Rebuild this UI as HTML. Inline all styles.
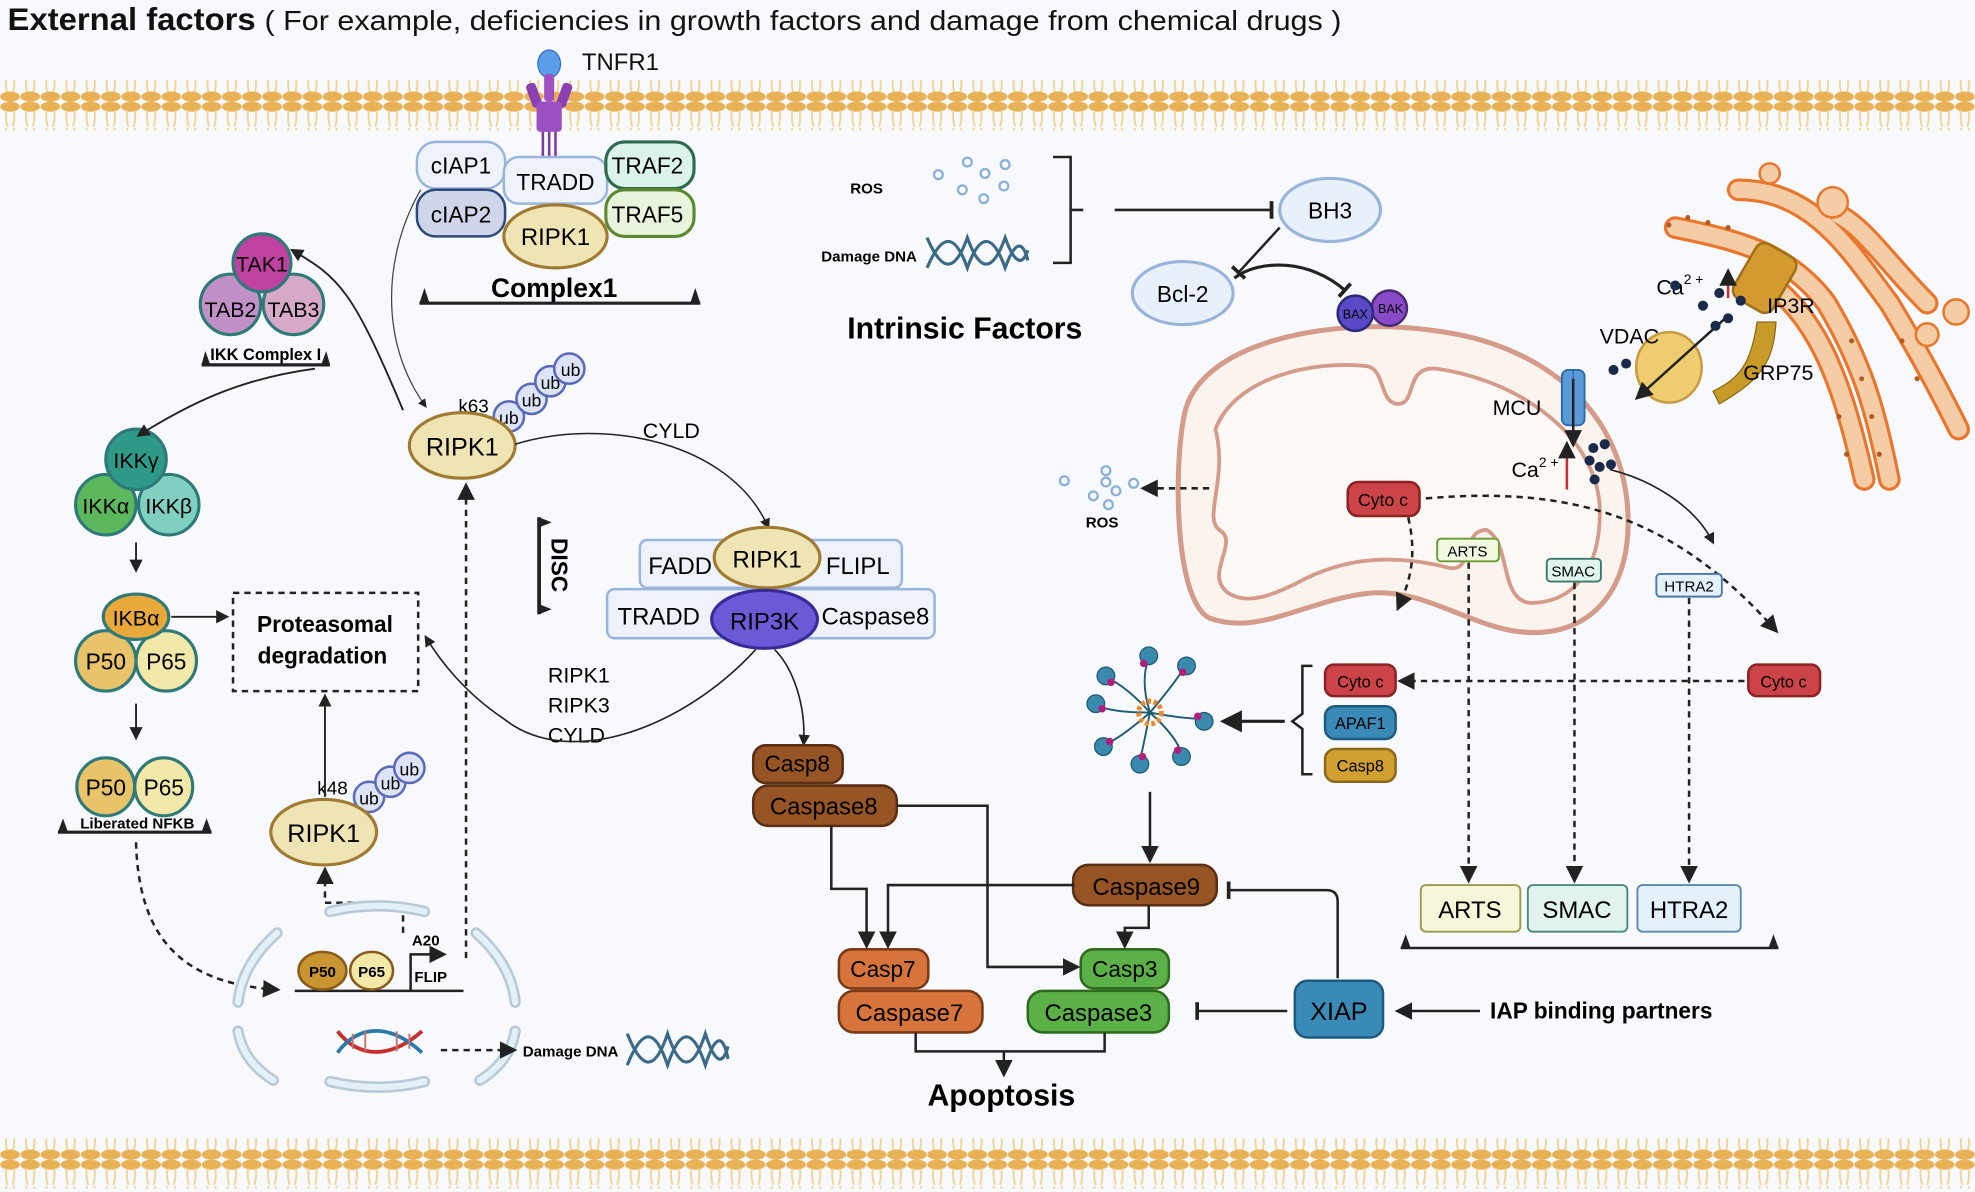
<!DOCTYPE html>
<html><head><meta charset="utf-8">
<style>
html,body{margin:0;padding:0;background:#f7f9fd;}
svg{display:block;}
text{font-family:"Liberation Sans",sans-serif;}
.b{font-weight:bold;}
</style></head>
<body>
<svg width="1975" height="1192" viewBox="0 0 1568 945" xmlns="http://www.w3.org/2000/svg">
<defs>
<marker id="ar" viewBox="0 0 10 10" refX="8" refY="5" markerWidth="7" markerHeight="7" orient="auto-start-reverse"><path d="M0,0L10,5L0,10z" fill="#222"/></marker>
<marker id="tb" viewBox="0 0 4 14" refX="2" refY="7" markerWidth="4" markerHeight="14" orient="auto" markerUnits="userSpaceOnUse"><rect x="0" y="0" width="3" height="14" fill="#222"/></marker>
<pattern id="mem" x="0" y="0" width="16" height="40" patternUnits="userSpaceOnUse">
<ellipse cx="8" cy="4" rx="7.8" ry="4" fill="#e8b155"/>
<path d="M5,7 Q4,14 6,20 M11,7 Q12,14 10,20" stroke="#f0d490" stroke-width="1.5" fill="none"/>
<path d="M5,21 Q4,28 6,34 M11,21 Q12,28 10,34" stroke="#f0d490" stroke-width="1.5" fill="none"/>
<ellipse cx="8" cy="36" rx="7.8" ry="4" fill="#e8b155"/>
</pattern>
</defs>
<rect width="1568" height="945" fill="#f7f9fd"/>
<!-- membranes -->
<rect x="0" y="63" width="1568" height="40" fill="url(#mem)"/>
<rect x="0" y="903" width="1568" height="40" fill="url(#mem)"/>
<!-- title -->
<text x="6" y="23" font-size="25" class="b" fill="#111" textLength="197" lengthAdjust="spacingAndGlyphs">External factors</text>
<text x="210" y="23" font-size="22" fill="#111" textLength="855" lengthAdjust="spacingAndGlyphs">( For example, deficiencies in growth factors and damage from chemical drugs )</text>
<!-- TNFR1 -->
<g>
<ellipse cx="436" cy="50" rx="9" ry="11" fill="#5b9ee8" stroke="#3a6fc0"/>
<rect x="432" y="58" width="8" height="22" rx="3" fill="#a050c0"/>
<rect x="420" y="65" width="8" height="20" rx="3" fill="#8a40b0" transform="rotate(-20 424 75)"/>
<rect x="444" y="65" width="8" height="20" rx="3" fill="#8a40b0" transform="rotate(20 448 75)"/>
<rect x="426" y="80" width="20" height="24" rx="3" fill="#9a50c0"/>
<line x1="431" y1="104" x2="431" y2="124" stroke="#7a3aa0" stroke-width="2"/>
<line x1="436" y1="104" x2="436" y2="124" stroke="#7a3aa0" stroke-width="2"/>
<line x1="441" y1="104" x2="441" y2="124" stroke="#7a3aa0" stroke-width="2"/>
<text x="462" y="55" font-size="19" fill="#111">TNFR1</text>
</g>
<!-- Complex 1 -->
<rect x="331" y="112" width="70" height="37" rx="15" fill="#eef3fb" stroke="#9ab4dc" stroke-width="2"/>
<text x="366" y="137" font-size="18" text-anchor="middle">cIAP1</text>
<rect x="331" y="150" width="70" height="37" rx="15" fill="#cfd6ea" stroke="#2d4a7a" stroke-width="2"/>
<text x="366" y="176" font-size="18" text-anchor="middle">cIAP2</text>
<rect x="400" y="124" width="82" height="37" rx="12" fill="#eef3fb" stroke="#9ab4dc" stroke-width="2"/>
<text x="441" y="150" font-size="18" text-anchor="middle">TRADD</text>
<rect x="481" y="112" width="70" height="37" rx="15" fill="#dcf3ec" stroke="#2f6a50" stroke-width="2.5"/>
<text x="514" y="137" font-size="18" text-anchor="middle">TRAF2</text>
<rect x="481" y="150" width="70" height="37" rx="15" fill="#e8f5dc" stroke="#5a8a30" stroke-width="2.5"/>
<text x="514" y="176" font-size="18" text-anchor="middle">TRAF5</text>
<ellipse cx="441" cy="187" rx="41" ry="25" fill="#efe5b4" stroke="#a07a30" stroke-width="2.5"/>
<text x="441" y="194" font-size="19" text-anchor="middle">RIPK1</text>
<text x="440" y="235" font-size="21" class="b" text-anchor="middle">Complex1</text>
<line x1="333" y1="240" x2="556" y2="240" stroke="#222" stroke-width="2.5"/>
<path d="M333,240 l4,-12 l4,12z M556,240 l-4,-12 l-4,12z" fill="#222"/>
<!-- TAK complex -->
<circle cx="183" cy="241" r="24" fill="#c090c6" stroke="#2f7a78" stroke-width="2.5"/>
<circle cx="233" cy="241" r="24" fill="#d8a8c8" stroke="#2f7a78" stroke-width="2.5"/>
<circle cx="208" cy="208" r="23" fill="#c042a0" stroke="#2f7a78" stroke-width="2.5"/>
<text x="208" y="215" font-size="17" text-anchor="middle">TAK1</text>
<text x="183" y="251" font-size="17" text-anchor="middle">TAB2</text>
<text x="233" y="251" font-size="17" text-anchor="middle">TAB3</text>
<text x="211" y="285" font-size="13" class="b" text-anchor="middle">IKK Complex I</text>
<line x1="160" y1="289" x2="262" y2="289" stroke="#222" stroke-width="2.5"/>
<path d="M160,289 l3,-11 l4,11z M262,289 l-3,-11 l-4,11z" fill="#222"/>
<!-- IKK -->
<circle cx="84" cy="400" r="24" fill="#5cb85c" stroke="#2f7a78" stroke-width="2.5"/>
<circle cx="134" cy="400" r="24" fill="#7fd0c0" stroke="#2f7a78" stroke-width="2.5"/>
<circle cx="108" cy="364" r="24" fill="#2f9a88" stroke="#2f7a78" stroke-width="2.5"/>
<text x="108" y="371" font-size="17" text-anchor="middle">IKKγ</text>
<text x="84" y="407" font-size="17" text-anchor="middle">IKKα</text>
<text x="134" y="407" font-size="17" text-anchor="middle">IKKβ</text>
<line x1="108" y1="430" x2="108" y2="452" stroke="#222" stroke-width="1.5" marker-end="url(#ar)"/>
<!-- IKBa -->
<circle cx="84" cy="524" r="24" fill="#e8c36a" stroke="#2f7a78" stroke-width="2.5"/>
<circle cx="132" cy="524" r="24" fill="#f2e8a8" stroke="#2f7a78" stroke-width="2.5"/>
<ellipse cx="108" cy="489" rx="26" ry="18" fill="#e8a93a" stroke="#2f7a78" stroke-width="2.5"/>
<text x="108" y="496" font-size="17" text-anchor="middle">IKBα</text>
<text x="84" y="531" font-size="18" text-anchor="middle">P50</text>
<text x="132" y="531" font-size="18" text-anchor="middle">P65</text>
<line x1="136" y1="489" x2="180" y2="489" stroke="#222" stroke-width="1.5" marker-end="url(#ar)"/>
<line x1="108" y1="558" x2="108" y2="585" stroke="#222" stroke-width="1.5" marker-end="url(#ar)"/>
<circle cx="84" cy="624" r="23" fill="#e8c36a" stroke="#2f7a78" stroke-width="2.5"/>
<circle cx="130" cy="624" r="23" fill="#f2e8a8" stroke="#2f7a78" stroke-width="2.5"/>
<text x="84" y="631" font-size="18" text-anchor="middle">P50</text>
<text x="130" y="631" font-size="18" text-anchor="middle">P65</text>
<text x="109" y="657" font-size="12" class="b" text-anchor="middle">Liberated NFKB</text>
<line x1="46" y1="660" x2="168" y2="660" stroke="#222" stroke-width="2.5"/>
<path d="M46,660 l4,-11 l4,11z M168,660 l-4,-11 l-4,11z" fill="#222"/>
<!-- Proteasomal -->
<rect x="185" y="470" width="147" height="78" fill="none" stroke="#222" stroke-width="2" stroke-dasharray="5,4"/>
<text x="258" y="501" font-size="18" class="b" text-anchor="middle">Proteasomal</text>
<text x="256" y="526" font-size="18" class="b" text-anchor="middle">degradation</text>
<!-- RIPK1 lower -->
<circle cx="293" cy="632" r="12" fill="#dde4f8" stroke="#5a6ab8" stroke-width="2"/>
<circle cx="310" cy="620" r="12" fill="#dde4f8" stroke="#5a6ab8" stroke-width="2"/>
<circle cx="325" cy="609" r="12" fill="#dde4f8" stroke="#5a6ab8" stroke-width="2"/>
<text x="293" y="638" font-size="14" text-anchor="middle">ub</text>
<text x="310" y="626" font-size="14" text-anchor="middle">ub</text>
<text x="325" y="615" font-size="14" text-anchor="middle">ub</text>
<text x="264" y="630" font-size="15" text-anchor="middle">k48</text>
<ellipse cx="257" cy="660" rx="42" ry="26" fill="#efe5b4" stroke="#a07a30" stroke-width="2.5"/>
<text x="257" y="668" font-size="20" text-anchor="middle">RIPK1</text>
<line x1="258" y1="632" x2="258" y2="552" stroke="#222" stroke-width="1.5" marker-end="url(#ar)"/>
<!-- RIPK1 upper -->
<circle cx="404" cy="330" r="12" fill="#dde4f8" stroke="#5a6ab8" stroke-width="2"/>
<circle cx="422" cy="316" r="12" fill="#dde4f8" stroke="#5a6ab8" stroke-width="2"/>
<circle cx="437" cy="302" r="12" fill="#dde4f8" stroke="#5a6ab8" stroke-width="2"/>
<circle cx="452" cy="292" r="12" fill="#dde4f8" stroke="#5a6ab8" stroke-width="2"/>
<text x="404" y="336" font-size="14" text-anchor="middle">ub</text>
<text x="422" y="322" font-size="14" text-anchor="middle">ub</text>
<text x="437" y="308" font-size="14" text-anchor="middle">ub</text>
<text x="453" y="298" font-size="14" text-anchor="middle">ub</text>
<text x="376" y="327" font-size="15" text-anchor="middle">k63</text>
<ellipse cx="367" cy="353" rx="42" ry="26" fill="#efe5b4" stroke="#a07a30" stroke-width="2.5"/>
<text x="367" y="361" font-size="20" text-anchor="middle">RIPK1</text>
<!-- arrows around RIPK1 -->
<path d="M334,150 C305,200 300,270 338,322" fill="none" stroke="#444" stroke-width="1" marker-end="url(#ar)"/>
<path d="M320,325 C280,230 270,220 232,198" fill="none" stroke="#222" stroke-width="1.5" marker-end="url(#ar)"/>
<path d="M250,292 C190,300 150,320 110,345" fill="none" stroke="#222" stroke-width="1.5" marker-end="url(#ar)"/>
<path d="M409,352 C480,330 580,350 610,418" fill="none" stroke="#222" stroke-width="1.2" marker-end="url(#ar)"/>
<text x="533" y="347" font-size="17" text-anchor="middle">CYLD</text>
<!-- dashed from nucleus up to RIPK1 -->
<path d="M370,760 L370,385" fill="none" stroke="#222" stroke-width="2" stroke-dasharray="5,4" marker-end="url(#ar)"/>
<path d="M320,740 L320,716 L258,716 L258,690" fill="none" stroke="#222" stroke-width="2" stroke-dasharray="5,4" marker-end="url(#ar)"/>
<path d="M108,668 C110,740 140,780 220,785" fill="none" stroke="#222" stroke-width="2" stroke-dasharray="5,4" marker-end="url(#ar)"/>
<!-- nucleus -->
<g fill="none" stroke="#b7c9d6" stroke-width="9" stroke-linecap="round">
<path d="M262,723 Q300,714 337,723"/>
<path d="M262,858 Q300,867 337,858"/>
<path d="M220,740 Q192,765 189,795"/>
<path d="M378,740 Q406,765 409,795"/>
<path d="M189,818 Q193,842 217,857"/>
<path d="M409,818 Q405,842 381,857"/>
</g>
<g fill="none" stroke="#e4f0f8" stroke-width="5" stroke-linecap="round">
<path d="M262,723 Q300,714 337,723"/>
<path d="M262,858 Q300,867 337,858"/>
<path d="M220,740 Q192,765 189,795"/>
<path d="M378,740 Q406,765 409,795"/>
<path d="M189,818 Q193,842 217,857"/>
<path d="M409,818 Q405,842 381,857"/>
</g>
<line x1="234" y1="786" x2="368" y2="786" stroke="#222" stroke-width="2"/>
<path d="M326,786 L326,757 L352,757" fill="none" stroke="#222" stroke-width="2" marker-end="url(#ar)"/>
<ellipse cx="256" cy="770" rx="19" ry="15" fill="#c89530" stroke="#8a5a1a" stroke-width="2"/>
<ellipse cx="295" cy="770" rx="17" ry="15" fill="#f2e8a8" stroke="#8a5a1a" stroke-width="2"/>
<text x="256" y="775" font-size="12" class="b" text-anchor="middle">P50</text>
<text x="295" y="775" font-size="12" class="b" text-anchor="middle">P65</text>
<text x="327" y="750" font-size="12" class="b">A20</text>
<text x="329" y="779" font-size="12" class="b">FLIP</text>
<path d="M268,818 C285,840 310,840 335,818" stroke="#c83030" stroke-width="3" fill="none"/>
<path d="M268,835 C285,812 310,812 335,835" stroke="#2a7aa8" stroke-width="3" fill="none"/>
<g stroke="#c87070" stroke-width="1.5"><line x1="280" y1="820" x2="280" y2="832"/><line x1="290" y1="818" x2="290" y2="834"/><line x1="315" y1="818" x2="315" y2="834"/><line x1="325" y1="820" x2="325" y2="832"/></g>
<line x1="350" y1="833" x2="408" y2="833" stroke="#222" stroke-width="2" stroke-dasharray="5,4" marker-end="url(#ar)"/>
<text x="415" y="838" font-size="12" class="b">Damage DNA</text>
<g fill="none" stroke="#3a6a88" stroke-width="2.5">
<path d="M498,820 C510,850 520,850 530,820 C540,850 550,850 560,820 C568,845 574,845 578,830"/>
<path d="M498,845 C510,815 520,815 530,845 C540,815 550,815 560,845 C568,820 574,820 578,840"/>
</g>
<!-- DISC -->
<line x1="428" y1="410" x2="428" y2="487" stroke="#222" stroke-width="3"/>
<path d="M428,410 l10,4 l-10,4z M428,487 l10,-4 l-10,-4z" fill="#222"/>
<text x="438" y="448" font-size="18" class="b" transform="rotate(90 438 448)" text-anchor="middle">DISC</text>
<rect x="508" y="428" width="208" height="38" rx="6" fill="#eef3fb" stroke="#9ab4dc" stroke-width="2"/>
<rect x="482" y="467" width="260" height="39" rx="6" fill="#eef3fb" stroke="#9ab4dc" stroke-width="2"/>
<text x="540" y="455" font-size="19" text-anchor="middle">FADD</text>
<text x="681" y="455" font-size="19" text-anchor="middle">FLIPL</text>
<text x="523" y="495" font-size="19" text-anchor="middle">TRADD</text>
<text x="695" y="495" font-size="19" text-anchor="middle">Caspase8</text>
<ellipse cx="609" cy="442" rx="42" ry="24" fill="#efe5b4" stroke="#a07a30" stroke-width="2.5"/>
<text x="609" y="450" font-size="19" text-anchor="middle">RIPK1</text>
<ellipse cx="607" cy="491" rx="42" ry="23" fill="#6a5ad8" stroke="#3a2a98" stroke-width="2.5"/>
<text x="607" y="499" font-size="19" text-anchor="middle">RIP3K</text>
<text x="435" y="541" font-size="17">RIPK1</text>
<text x="435" y="565" font-size="17">RIPK3</text>
<text x="435" y="589" font-size="17">CYLD</text>
<path d="M600,515 C540,580 450,610 400,570 C370,550 350,525 338,505" fill="none" stroke="#222" stroke-width="1.3" marker-end="url(#ar)"/>
<path d="M615,515 C630,530 640,560 638,590" fill="none" stroke="#222" stroke-width="1.3" marker-end="url(#ar)"/>
<!-- Caspases -->
<rect x="598" y="591" width="71" height="30" rx="10" fill="#975425" stroke="#5a2e12" stroke-width="2"/>
<text x="633" y="612" font-size="18" text-anchor="middle">Casp8</text>
<rect x="598" y="623" width="114" height="32" rx="12" fill="#975425" stroke="#5a2e12" stroke-width="2"/>
<text x="654" y="646" font-size="19" text-anchor="middle">Caspase8</text>
<rect x="852" y="686" width="114" height="32" rx="12" fill="#975425" stroke="#5a2e12" stroke-width="2"/>
<text x="910" y="710" font-size="19" text-anchor="middle">Caspase9</text>
<rect x="666" y="753" width="71" height="31" rx="10" fill="#d6743c" stroke="#7a3a18" stroke-width="2"/>
<text x="701" y="775" font-size="18" text-anchor="middle">Casp7</text>
<rect x="666" y="786" width="114" height="33" rx="12" fill="#d6743c" stroke="#7a3a18" stroke-width="2"/>
<text x="722" y="810" font-size="19" text-anchor="middle">Caspase7</text>
<rect x="858" y="753" width="70" height="31" rx="10" fill="#5cb048" stroke="#2e6a1e" stroke-width="2"/>
<text x="893" y="775" font-size="18" text-anchor="middle">Casp3</text>
<rect x="816" y="786" width="112" height="33" rx="12" fill="#5cb048" stroke="#2e6a1e" stroke-width="2"/>
<text x="872" y="810" font-size="19" text-anchor="middle">Caspase3</text>
<rect x="1028" y="778" width="70" height="45" rx="10" fill="#3a8ab8" stroke="#1e5a80" stroke-width="2"/>
<text x="1063" y="809" font-size="20" text-anchor="middle">XIAP</text>
<g fill="none" stroke="#222" stroke-width="2">
<path d="M660,655 L660,705 L688,705 L688,750" marker-end="url(#ar)"/>
<path d="M853,702 L705,702 L705,750" marker-end="url(#ar)"/>
<path d="M712,639 L784,639 L784,767 L855,767" marker-end="url(#ar)"/>
<path d="M912,718 L912,736 L893,736 L893,750" marker-end="url(#ar)"/>
<path d="M913,628 L913,682" marker-end="url(#ar)"/>
<path d="M727,819 L727,834 L877,834 L877,819"/>
<path d="M797,834 L797,852" marker-end="url(#ar)"/>
<path d="M1062,776 L1062,715 Q1062,706 1053,706 L975,706" marker-end="url(#tb)"/>
<path d="M1022,802 L950,802" marker-end="url(#tb)"/>
<path d="M1175,802 L1110,802" marker-end="url(#ar)"/>
</g>
<text x="1183" y="808" font-size="18" class="b">IAP binding partners</text>
<text x="795" y="877" font-size="24" class="b" text-anchor="middle">Apoptosis</text>
<!-- apoptosome -->
<g>
<g stroke="#1e5a70" stroke-width="1.5" fill="none">
<path d="M913,565 Q905,540 912,522"/><path d="M913,565 Q930,545 940,530"/><path d="M913,565 Q940,570 955,570"/>
<path d="M913,565 Q935,585 938,598"/><path d="M913,565 Q908,590 905,604"/><path d="M913,565 Q890,585 878,590"/>
<path d="M913,565 Q885,565 872,560"/><path d="M913,565 Q895,545 880,538"/>
</g>
<g fill="#3a8ab0" stroke="#1e5a70">
<circle cx="912" cy="520" r="7"/><circle cx="942" cy="528" r="7"/><circle cx="956" cy="572" r="7"/><circle cx="938" cy="600" r="7"/>
<circle cx="905" cy="606" r="7"/><circle cx="876" cy="592" r="7"/><circle cx="870" cy="558" r="7"/><circle cx="878" cy="536" r="7"/>
</g>
<g fill="#b0207a"><circle cx="908" cy="526" r="3"/><circle cx="939" cy="533" r="3"/><circle cx="951" cy="568" r="3"/><circle cx="935" cy="595" r="3"/><circle cx="907" cy="600" r="3"/><circle cx="881" cy="588" r="3"/><circle cx="875" cy="562" r="3"/><circle cx="882" cy="541" r="3"/></g>
<circle cx="913" cy="565" r="9" fill="none" stroke="#e88a30" stroke-width="4" stroke-dasharray="3,2"/>
</g>
<line x1="1020" y1="572" x2="972" y2="572" stroke="#222" stroke-width="2.5" marker-end="url(#ar)"/>
<path d="M1042,528 L1034,528 L1034,566 L1026,572 L1034,578 L1034,614 L1042,614" fill="none" stroke="#222" stroke-width="2"/>
<rect x="1052" y="527" width="56" height="25" rx="7" fill="#cc4448" stroke="#8a2226" stroke-width="2"/>
<text x="1080" y="545" font-size="13" text-anchor="middle">Cyto c</text>
<rect x="1052" y="560" width="56" height="26" rx="8" fill="#3a8ab8" stroke="#1e5a80" stroke-width="2"/>
<text x="1080" y="578" font-size="13" text-anchor="middle">APAF1</text>
<rect x="1052" y="594" width="56" height="26" rx="8" fill="#d0a030" stroke="#8a6a18" stroke-width="2"/>
<text x="1080" y="612" font-size="13" text-anchor="middle">Casp8</text>
<rect x="1388" y="527" width="57" height="25" rx="7" fill="#cc4448" stroke="#8a2226" stroke-width="2"/>
<text x="1416" y="545" font-size="13" text-anchor="middle">Cyto c</text>
<line x1="1385" y1="540" x2="1112" y2="540" stroke="#222" stroke-width="2" stroke-dasharray="5,4" marker-end="url(#ar)"/>
<!-- ARTS SMAC HTRA2 -->
<rect x="1128" y="702" width="79" height="37" rx="4" fill="#f8f6d8" stroke="#9a9a50" stroke-width="1.5"/>
<text x="1167" y="728" font-size="19" text-anchor="middle">ARTS</text>
<rect x="1213" y="702" width="79" height="37" rx="4" fill="#e0f3ee" stroke="#4a8a7a" stroke-width="1.5"/>
<text x="1252" y="728" font-size="19" text-anchor="middle">SMAC</text>
<rect x="1300" y="702" width="82" height="37" rx="4" fill="#e4f0fa" stroke="#5a8ab0" stroke-width="1.5"/>
<text x="1341" y="728" font-size="19" text-anchor="middle">HTRA2</text>
<line x1="1112" y1="752" x2="1412" y2="752" stroke="#222" stroke-width="2"/>
<path d="M1112,752 l4,-11 l4,11z M1412,752 l-4,-11 l-4,11z" fill="#222"/>
<!-- Intrinsic -->
<text x="688" y="153" font-size="12" class="b" text-anchor="middle">ROS</text>
<g fill="none" stroke="#8ab0d8" stroke-width="1.8"><circle cx="745" cy="138" r="3.5"/><circle cx="768" cy="128" r="3.5"/><circle cx="782" cy="137" r="3.5"/><circle cx="798" cy="130" r="3.5"/><circle cx="764" cy="150" r="3.5"/><circle cx="781" cy="157" r="3.5"/><circle cx="797" cy="147" r="3.5"/></g>
<text x="652" y="207" font-size="12" class="b">Damage DNA</text>
<g fill="none" stroke="#3a6a88" stroke-width="2.5">
<path d="M736,188 C748,216 758,216 768,188 C778,216 788,216 798,188 C806,210 812,210 816,198"/>
<path d="M736,212 C748,184 758,184 768,212 C778,184 788,184 798,212 C806,190 812,190 816,206"/>
</g>
<path d="M836,124 L850,124 L850,208 L836,208 M850,166 L860,166" fill="none" stroke="#222" stroke-width="2"/>
<line x1="885" y1="166" x2="1010" y2="166" stroke="#222" stroke-width="2" marker-end="url(#tb)"/>
<text x="766" y="268" font-size="24" class="b" text-anchor="middle">Intrinsic Factors</text>
<ellipse cx="1056" cy="166" rx="40" ry="25" fill="#e8f0fa" stroke="#98b4dc" stroke-width="2.5"/>
<text x="1056" y="173" font-size="18" text-anchor="middle">BH3</text>
<ellipse cx="939" cy="232" rx="40" ry="25" fill="#e8f0fa" stroke="#98b4dc" stroke-width="2.5"/>
<text x="939" y="239" font-size="18" text-anchor="middle">Bcl-2</text>
<line x1="1016" y1="180" x2="983" y2="216" stroke="#222" stroke-width="2" marker-end="url(#tb)"/>
<path d="M980,220 C1000,205 1040,205 1068,230" fill="none" stroke="#222" stroke-width="2.5" marker-end="url(#tb)"/>
<!-- ER -->
<g fill="none" stroke-linecap="round" stroke-linejoin="round">
<g stroke="#e8762c" stroke-width="18">
<path d="M1330,180 C1380,190 1420,200 1450,240 C1480,290 1490,330 1500,380"/>
<path d="M1380,150 C1440,150 1470,200 1500,240 C1530,290 1545,320 1555,340"/>
<path d="M1460,170 C1480,180 1500,210 1530,240"/>
<path d="M1400,220 C1440,250 1460,290 1480,380"/>
</g>
<g stroke="#f4cda6" stroke-width="13">
<path d="M1330,180 C1380,190 1420,200 1450,240 C1480,290 1490,330 1500,380"/>
<path d="M1380,150 C1440,150 1470,200 1500,240 C1530,290 1545,320 1555,340"/>
<path d="M1460,170 C1480,180 1500,210 1530,240"/>
<path d="M1400,220 C1440,250 1460,290 1480,380"/>
</g>
</g>
<circle cx="1455" cy="160" r="12" fill="#f4cda6" stroke="#e8762c" stroke-width="2"/>
<circle cx="1405" cy="137" r="8" fill="#f4cda6" stroke="#e8762c" stroke-width="2"/>
<circle cx="1553" cy="247" r="10" fill="#f4cda6" stroke="#e8762c" stroke-width="2"/>
<circle cx="1530" cy="265" r="9" fill="#f4cda6" stroke="#e8762c" stroke-width="2"/>
<g fill="#b05a20">
<circle cx="1325" cy="178" r="2"/><circle cx="1340" cy="172" r="2"/><circle cx="1356" cy="176" r="2"/><circle cx="1372" cy="180" r="2"/>
<circle cx="1470" cy="270" r="2"/><circle cx="1478" cy="300" r="2"/><circle cx="1486" cy="330" r="2"/><circle cx="1492" cy="360" r="2"/>
<circle cx="1510" cy="270" r="2"/><circle cx="1522" cy="300" r="2"/><circle cx="1460" cy="330" r="2"/><circle cx="1466" cy="360" r="2"/>
</g>
<!-- mitochondrion -->
<path d="M940,330 C950,270 1060,250 1140,262 C1220,272 1285,320 1292,400 C1298,470 1260,510 1200,500 C1160,492 1130,468 1090,470 C1040,474 1000,505 960,490 C932,475 932,370 940,330 Z" fill="#fbf3ee" stroke="#d49a8a" stroke-width="4"/>
<path d="M965,340 C980,300 1040,285 1085,290 C1100,292 1095,320 1110,320 C1125,320 1115,290 1140,292 C1200,300 1265,340 1270,400 C1272,450 1250,478 1215,478 C1190,476 1200,430 1180,420 C1160,420 1170,455 1150,450 C1110,440 1070,440 1030,462 C1010,472 990,480 975,470 C955,455 985,430 968,420 C955,410 975,380 965,340 Z" fill="#fcf8f5" stroke="#d49a8a" stroke-width="3"/>
<!-- BAX BAK -->
<circle cx="1103" cy="244" r="14" fill="#8a4ac8" stroke="#4a2a78" stroke-width="2"/>
<circle cx="1076" cy="248" r="14" fill="#5a4ac8" stroke="#2a2a78" stroke-width="2"/>
<text x="1076" y="252" font-size="10" text-anchor="middle">BAX</text>
<text x="1104" y="248" font-size="10" text-anchor="middle">BAK</text>
<!-- IP3R / VDAC / GRP75 -->
<path d="M1395,255 C1390,290 1380,300 1360,310 L1365,320 C1400,300 1408,285 1410,255 Z" fill="#c89a28" stroke="#8a6a18"/>
<rect x="1383" y="195" width="36" height="50" rx="8" fill="#d49a30" stroke="#a07018" stroke-width="2" transform="rotate(30 1401 220)"/>
<ellipse cx="1325" cy="291" rx="26" ry="28" fill="#f0cc70" stroke="#c89a40" stroke-width="2"/>
<line x1="1372" y1="250" x2="1300" y2="315" stroke="#222" stroke-width="2" marker-end="url(#ar)"/>
<line x1="1372" y1="236" x2="1372" y2="215" stroke="#c83030" stroke-width="2" marker-end="url(#ar)"/>
<text x="1315" y="233" font-size="17">Ca<tspan font-size="11" dy="-8">2 +</tspan></text>
<text x="1403" y="248" font-size="17">IP3R</text>
<text x="1270" y="272" font-size="17">VDAC</text>
<text x="1384" y="301" font-size="17">GRP75</text>
<g fill="#1a2a4a"><circle cx="1330" cy="226" r="4"/><circle cx="1365" cy="232" r="4"/><circle cx="1352" cy="242" r="4"/><circle cx="1382" cy="238" r="4"/><circle cx="1372" cy="252" r="4"/><circle cx="1362" cy="258" r="4"/><circle cx="1281" cy="293" r="4"/><circle cx="1291" cy="288" r="4"/>
<circle cx="1265" cy="355" r="4"/><circle cx="1274" cy="352" r="4"/><circle cx="1262" cy="365" r="4"/><circle cx="1270" cy="370" r="4"/><circle cx="1279" cy="368" r="4"/><circle cx="1266" cy="380" r="4"/></g>
<rect x="1240" y="293" width="18" height="44" rx="5" fill="#5a9ad8" stroke="#2a6aa8" stroke-width="1.5"/>
<line x1="1249" y1="293" x2="1249" y2="337" stroke="#2a6aa8"/>
<line x1="1249" y1="300" x2="1249" y2="352" stroke="#222" stroke-width="2" marker-end="url(#ar)"/>
<text x="1185" y="329" font-size="17">MCU</text>
<line x1="1244" y1="388" x2="1244" y2="352" stroke="#c83030" stroke-width="2" marker-end="url(#ar)"/>
<text x="1200" y="378" font-size="17">Ca<tspan font-size="11" dy="-8">2 +</tspan></text>
<path d="M1278,372 C1310,380 1345,400 1360,430" fill="none" stroke="#222" stroke-width="1.3" marker-end="url(#ar)"/>
<!-- Cyto c in mito -->
<rect x="1070" y="382" width="57" height="27" rx="8" fill="#cc4448" stroke="#8a2226" stroke-width="2"/>
<text x="1098" y="401" font-size="14" text-anchor="middle">Cyto c</text>
<path d="M1132,395 C1250,385 1330,410 1410,500" fill="none" stroke="#222" stroke-width="2" stroke-dasharray="5,4" marker-end="url(#ar)"/>
<path d="M1118,410 C1125,440 1120,460 1110,482" fill="none" stroke="#222" stroke-width="2" stroke-dasharray="5,4" marker-end="url(#ar)"/>
<line x1="960" y1="387" x2="908" y2="387" stroke="#222" stroke-width="2" stroke-dasharray="5,4" marker-end="url(#ar)"/>
<g fill="none" stroke="#8ab0d8" stroke-width="1.8"><circle cx="845" cy="381" r="3.5"/><circle cx="878" cy="373" r="3.5"/><circle cx="878" cy="382" r="3.5"/><circle cx="868" cy="393" r="3.5"/><circle cx="886" cy="389" r="3.5"/><circle cx="900" cy="383" r="3.5"/><circle cx="880" cy="400" r="3.5"/></g>
<text x="875" y="418" font-size="12" class="b" text-anchor="middle">ROS</text>
<rect x="1141" y="427" width="49" height="18" rx="3" fill="#f0f8e0" stroke="#6a9a30" stroke-width="1.5"/>
<text x="1165" y="441" font-size="12" text-anchor="middle">ARTS</text>
<rect x="1228" y="443" width="43" height="18" rx="3" fill="#e0f3ee" stroke="#3a7a6a" stroke-width="1.5"/>
<text x="1249" y="457" font-size="12" text-anchor="middle">SMAC</text>
<rect x="1315" y="455" width="52" height="18" rx="3" fill="#e4f0fa" stroke="#4a7aa8" stroke-width="1.5"/>
<text x="1341" y="469" font-size="12" text-anchor="middle">HTRA2</text>
<g fill="none" stroke="#222" stroke-width="2" stroke-dasharray="5,4">
<path d="M1166,446 L1166,698" marker-end="url(#ar)"/>
<path d="M1250,462 L1250,698" marker-end="url(#ar)"/>
<path d="M1341,474 L1341,698" marker-end="url(#ar)"/>
</g>
</svg>
</body></html>
